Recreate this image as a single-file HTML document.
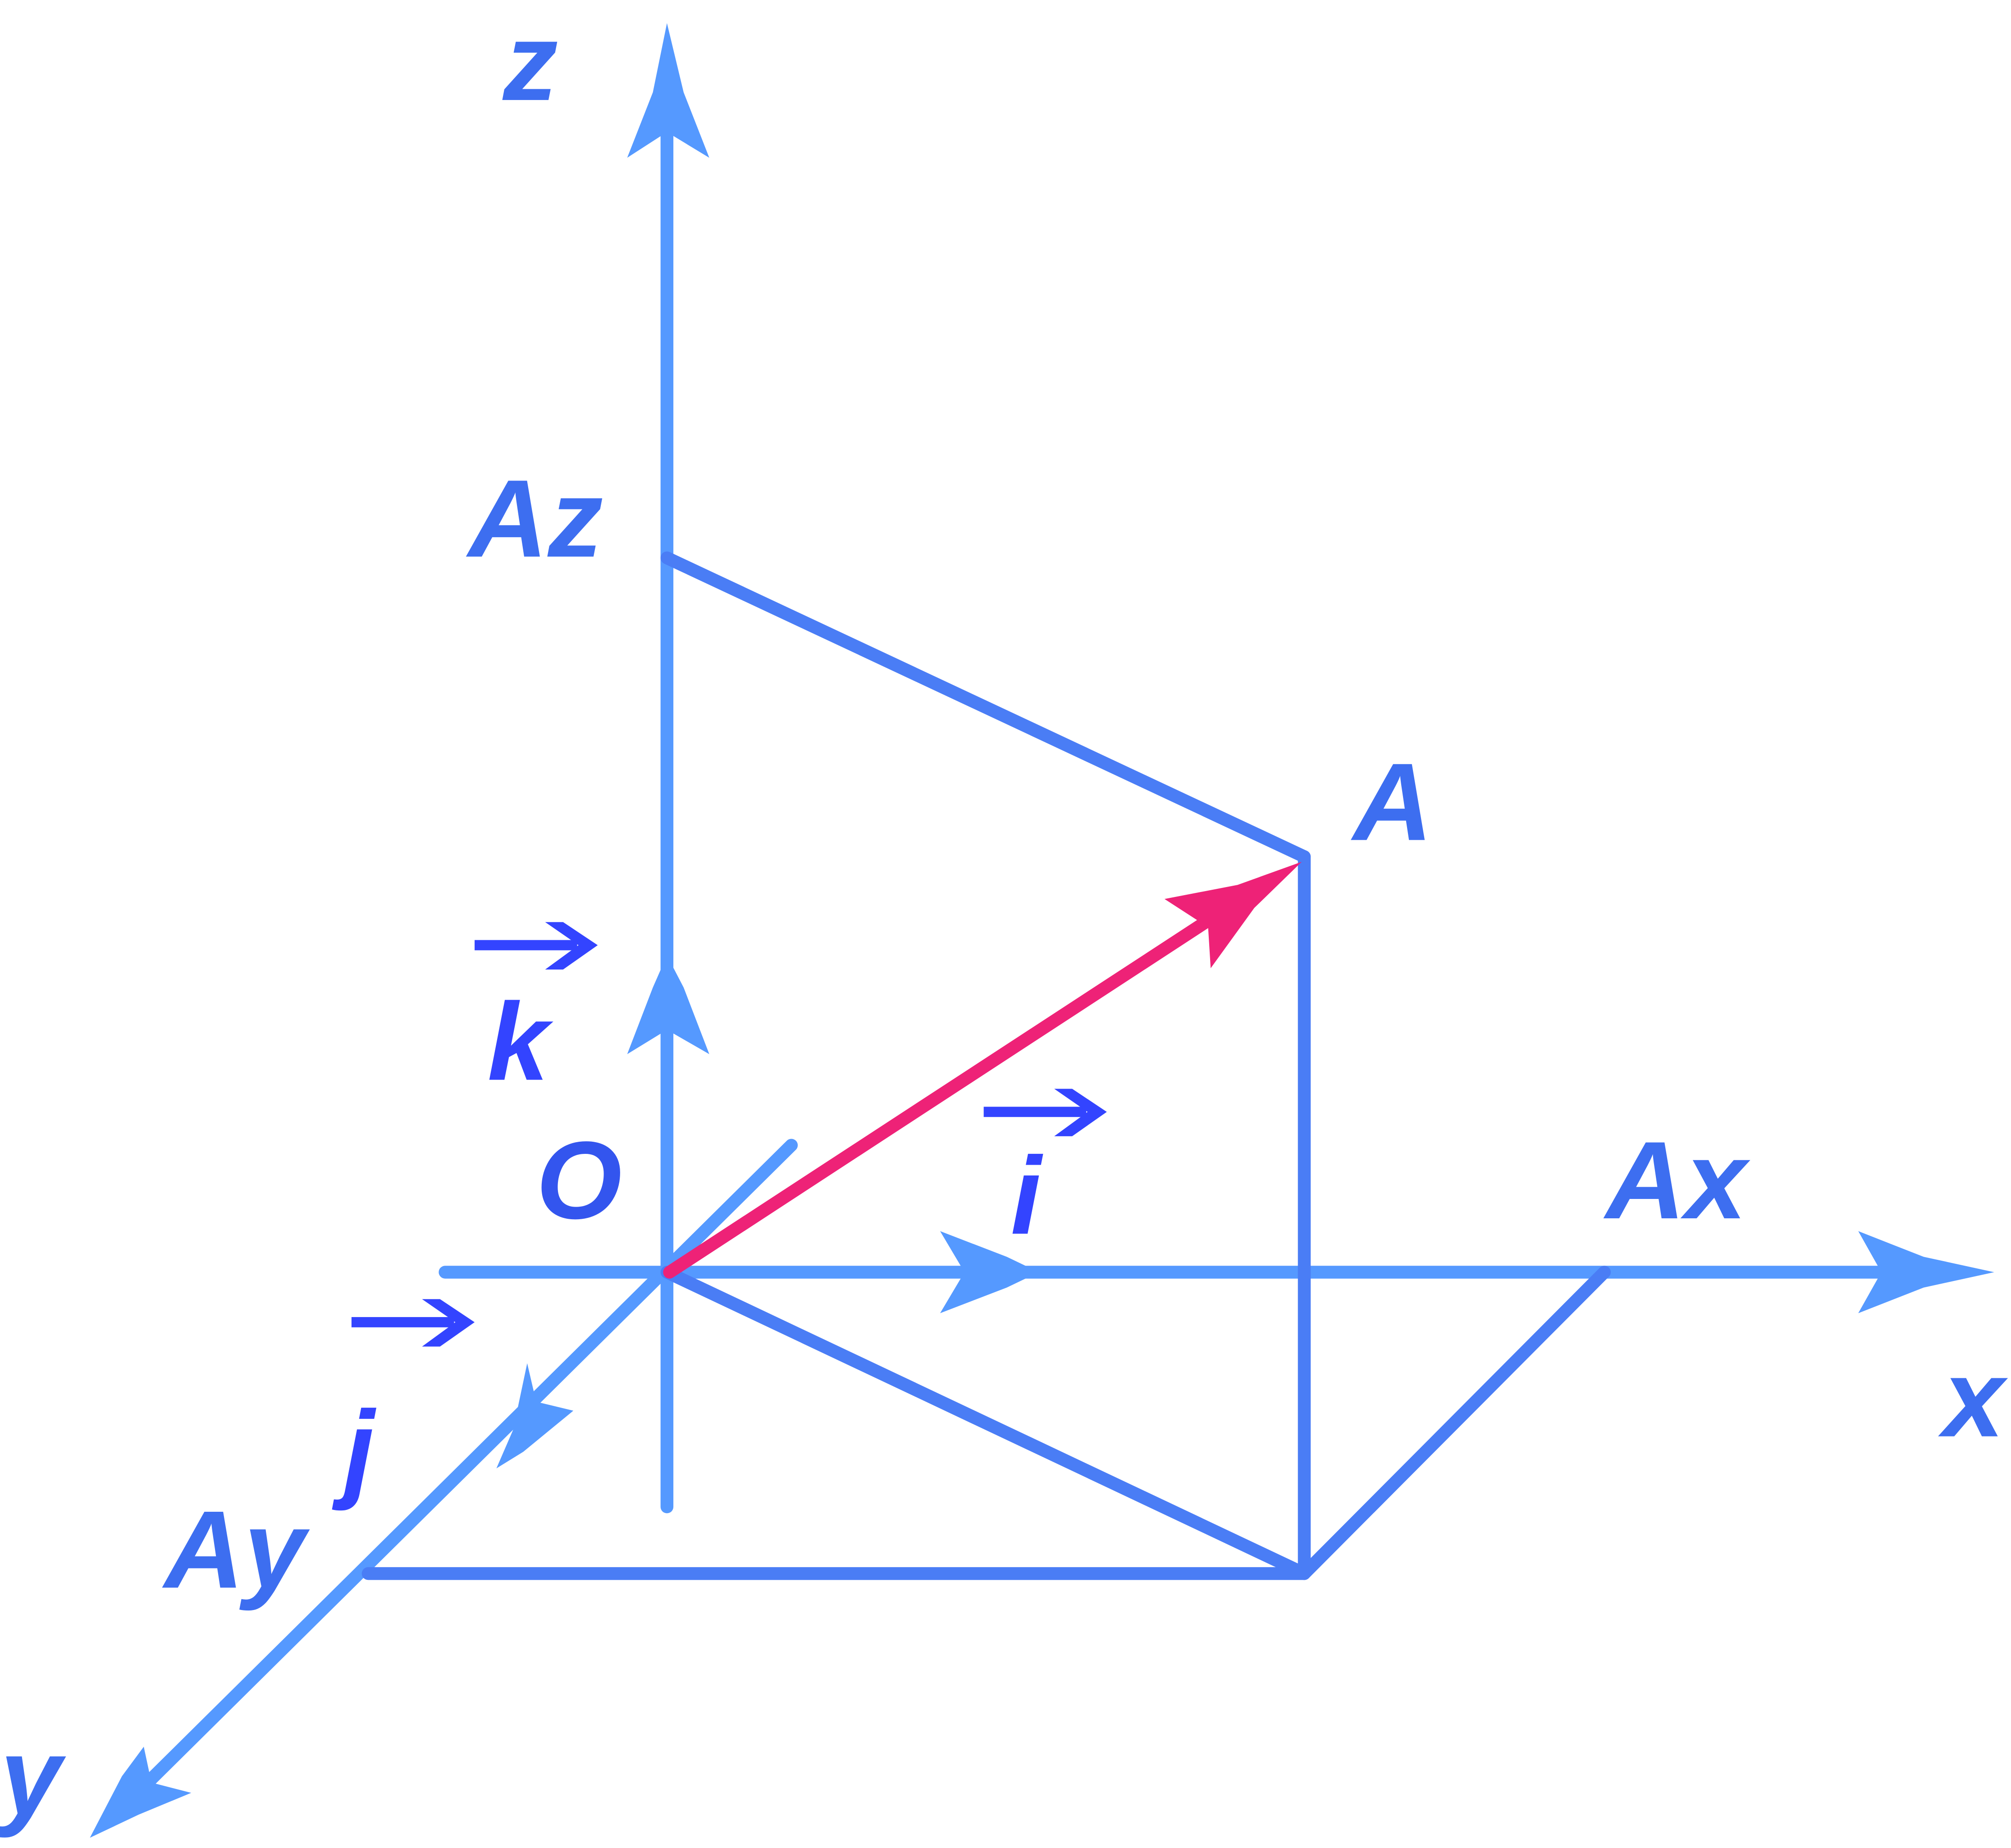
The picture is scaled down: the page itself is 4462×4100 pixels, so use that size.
<!DOCTYPE html>
<html><head><meta charset="utf-8"><style>
html,body{margin:0;padding:0;background:#fff;}
svg{display:block}
text{font-family:"Liberation Sans",sans-serif;font-style:italic;font-weight:bold;}
</style></head><body>
<svg width="4462" height="4100" viewBox="0 0 1568 1441" xmlns="http://www.w3.org/2000/svg">
<g stroke-linecap="round" stroke-width="10" fill="none">
<line x1="520" y1="1175" x2="520" y2="90" stroke="#5599ff"/>
<line x1="347" y1="992" x2="1500" y2="992" stroke="#5599ff"/>
<line x1="617" y1="893" x2="110" y2="1395" stroke="#5599ff"/>
<line x1="520" y1="435" x2="1017" y2="668" stroke="#4a7df5"/>
<line x1="1017" y1="668" x2="1017" y2="1227" stroke="#4a7df5"/>
<line x1="520" y1="992" x2="1017" y2="1227" stroke="#4a7df5"/>
<line x1="287" y1="1227" x2="1017" y2="1227" stroke="#4a7df5"/>
<line x1="1017" y1="1227" x2="1251" y2="992" stroke="#4a7df5"/>
<line x1="522" y1="992" x2="960" y2="706" stroke="#ee2277" stroke-width="10"/>
</g>
<g fill="#5599ff">
<polygon points="520,18 533,72 553,123 520,103 489,123 509,72"/>
<polygon points="520,745 533,770 553,822 520,803 489,822 509,770"/>
<polygon points="1555,992 1500,1004 1449,1024 1467,992 1449,960 1500,980"/>
<polygon points="810,992 785,1004 733,1024 752,992 733,960 785,980"/>
<polygon points="70,1433 95,1385 112,1362 118,1390 149,1398 108,1415"/>
<polygon points="387,1145 400,1115 411,1063 418,1093 447,1100 408,1132"/>
</g>
<polygon points="1015,672 978,708 944,755 942,723 908,701 965,690" fill="#ee2277"/>
<g fill="#3d6ef0" font-size="86">
<text x="392" y="78">z</text>
<text x="365" y="434">Az</text>
<text x="1055" y="655">A</text>
<text x="1252" y="950">Ax</text>
<text x="1515" y="1120">x</text>
<text x="128" y="1238">Ay</text>
<text x="0" y="1415">y</text>
<text x="418" y="950" fill="#3355ee">O</text>
</g>
<g fill="#3344ff" font-size="86">
<text x="380" y="842">k</text>
<text x="788" y="962">i</text>
<text x="268" y="1160">j</text>
</g>
<g fill="#3344ff">
<rect x="370" y="733" width="80" height="8"/><polygon points="425,719 439,719 466,737 439,756 425,756 451,737"/>
<rect x="767" y="863" width="80" height="8"/><polygon points="822,849 836,849 863,867 836,886 822,886 848,867"/>
<rect x="274" y="1027" width="80" height="8"/><polygon points="329,1013 343,1013 370,1031 343,1050 329,1050 355,1031"/>
</g>
</svg>
</body></html>
